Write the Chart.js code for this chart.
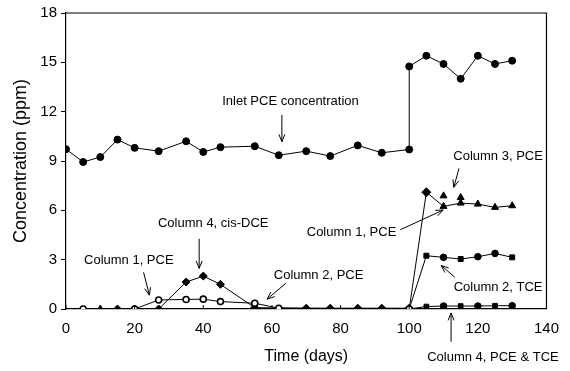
<!DOCTYPE html>
<html><head><meta charset="utf-8">
<script src="https://cdn.jsdelivr.net/npm/chart.js@4"></script>
<style>html,body{margin:0;padding:0;background:#fff}</style>
</head><body>
<canvas id="c" width="570" height="371"></canvas>
<script>
// ---- data ----
const xTicks = [0, 20, 40, 60, 80, 100, 120, 140];
const yTicks = [0, 3, 6, 9, 12, 15, 18];

const inletDays = [0, 5, 10, 15, 20, 27, 35, 40, 45, 55, 62, 70, 77, 85, 92, 100, 100, 105, 110, 115, 120, 125, 130];
const inletPCE  = [9.72, 8.94, 9.24, 10.3, 9.8, 9.6, 10.2, 9.55, 9.84, 9.9, 9.35, 9.6, 9.3, 9.95, 9.5, 9.7, 14.75, 15.4, 14.9, 14.0, 15.4, 14.9, 15.1];

const col1Days = [5, 20, 27, 35, 40, 45, 55, 62, 100, 105, 110, 115, 120, 125, 130];
const col1PCE  = [0, 0, 0.55, 0.58, 0.6, 0.45, 0.35, 0.05, 0, 7.1, 6.24, 6.44, 6.38, 6.18, 6.28];

const col2Days = [100, 105, 110, 115, 120, 125, 130];
const col2TCE  = [0, 3.24, 3.14, 3.04, 3.18, 3.38, 3.14];

const col3Days = [10, 110, 115];
const col3PCE  = [0, 6.88, 6.78];

const col4DceDays = [15, 20, 27, 35, 40, 45, 55, 70, 77, 85, 92, 100];
const col4DCE     = [0, 0, 0, 1.64, 2.0, 1.5, 0.08, 0.05, 0.05, 0.05, 0.05, 0.05];

const col4Days   = [100, 105, 110, 115, 120, 125, 130];
const col4PceTce = [0, 0.15, 0.18, 0.18, 0.18, 0.2, 0.2];

// ---- helpers ----
const pts = (xs, ys) => xs.map((x, i) => ({x: x, y: ys[i]}));
const FONT = '"Liberation Sans", Arial, Helvetica, sans-serif';

const annotations = [
  {text: 'Inlet PCE concentration', tx: 65.4, ty: 12.64, a: [62.9, 11.8, 62.9, 10.17]},
  {text: 'Column 3, PCE', tx: 125.9, ty: 9.27, a: [114.5, 8.55, 113.0, 7.40]},
  {text: 'Column 4, cis-DCE', tx: 42.9, ty: 5.18, a: [38.8, 4.27, 38.8, 2.47]},
  {text: 'Column 1, PCE', tx: 18.3, ty: 2.95, a: [22.6, 2.23, 24.3, 0.84]},
  {text: 'Column 2, PCE', tx: 73.6, ty: 2.05, a: [64.1, 1.57, 58.6, 0.6]},
  {text: 'Column 1, PCE', tx: 83.2, ty: 4.64, a: [97.4, 4.82, 109.9, 6.02]},
  {text: 'Column 2, TCE', tx: 125.9, ty: 1.32, a: [113.3, 1.93, 109.3, 2.65]},
  {text: 'Column 4, PCE & TCE', tx: 124.4, ty: -2.95, a: [112.2, -1.99, 112.2, -0.24]}
];

const decor = {
  id: 'decor',
  afterDraw(chart) {
    const {ctx, chartArea: ca, scales: {x, y}} = chart;
    ctx.save();
    ctx.strokeStyle = '#000';
    ctx.lineWidth = 1.2;
    // frame top/right
    ctx.beginPath();
    ctx.moveTo(ca.left, ca.top); ctx.lineTo(ca.right, ca.top); ctx.lineTo(ca.right, ca.bottom);
    ctx.stroke();
    // inward x ticks
    ctx.lineWidth = 1;
    x.ticks.forEach(t => {
      const px = x.getPixelForValue(t.value);
      ctx.beginPath(); ctx.moveTo(px, ca.bottom); ctx.lineTo(px, ca.bottom - 4); ctx.stroke();
    });
    // annotations
    ctx.fillStyle = '#000';
    ctx.font = '13px ' + FONT;
    ctx.textAlign = 'center';
    ctx.textBaseline = 'middle';
    annotations.forEach(an => {
      ctx.fillText(an.text, x.getPixelForValue(an.tx), y.getPixelForValue(an.ty));
      const x1 = x.getPixelForValue(an.a[0]), y1 = y.getPixelForValue(an.a[1]);
      const x2 = x.getPixelForValue(an.a[2]), y2 = y.getPixelForValue(an.a[3]);
      ctx.beginPath(); ctx.moveTo(x1, y1); ctx.lineTo(x2, y2); ctx.stroke();
      const ang = Math.atan2(y2 - y1, x2 - x1), L = 8, w = 0.38;
      ctx.beginPath();
      ctx.moveTo(x2 - L * Math.cos(ang - w), y2 - L * Math.sin(ang - w));
      ctx.lineTo(x2, y2);
      ctx.lineTo(x2 - L * Math.cos(ang + w), y2 - L * Math.sin(ang + w));
      ctx.stroke();
    });
    ctx.restore();
  }
};

const base = {showLine: true, borderColor: '#000', borderWidth: 1, pointBorderColor: '#000', pointBorderWidth: 1, tension: 0};

new Chart(document.getElementById('c'), {
  type: 'scatter',
  data: {
    datasets: [
      Object.assign({}, base, {label: 'Inlet PCE', data: pts(inletDays, inletPCE),
        pointStyle: 'circle', pointRadius: 3.5, pointBackgroundColor: '#000'}),
      Object.assign({}, base, {label: 'Column 1, PCE', data: pts(col1Days, col1PCE),
        pointStyle: c => c.raw.x > 100 ? (c.raw.x === 105 ? 'rectRot' : 'triangle') : 'circle',
        pointRadius: c => c.raw.x > 100 ? (c.raw.x === 105 ? 4.5 : 4) : 3,
        pointBorderWidth: c => c.raw.x > 100 ? 1 : 1.6,
        pointBackgroundColor: c => c.raw.x > 100 ? '#000' : '#fff'}),
      Object.assign({}, base, {label: 'Column 2, TCE', data: pts(col2Days, col2TCE),
        pointStyle: ['circle', 'rect', 'circle', 'rect', 'circle', 'circle', 'rect'],
        pointRadius: [0, 3.5, 3.3, 3.5, 3.3, 3.3, 3.5], pointBackgroundColor: '#000'}),
      Object.assign({}, base, {label: 'Column 3, PCE', data: pts(col3Days, col3PCE), showLine: false,
        pointStyle: 'triangle', pointRadius: 4, pointBackgroundColor: '#000'}),
      Object.assign({}, base, {label: 'Column 4, cis-DCE', data: pts(col4DceDays, col4DCE),
        pointStyle: 'rectRot', pointRadius: 4, pointBackgroundColor: '#000'}),
      Object.assign({}, base, {label: 'Column 4, PCE & TCE', data: pts(col4Days, col4PceTce),
        pointStyle: ['circle', 'rect', 'circle', 'rect', 'circle', 'rect', 'circle'],
        pointRadius: [0, 3.3, 3.3, 3.3, 3.3, 3.3, 3.3], pointBackgroundColor: '#000'})
    ]
  },
  options: {
    responsive: false,
    animation: false,
    layout: {padding: {left: 0, right: 21, top: 10, bottom: 0}},
    plugins: {legend: {display: false}, tooltip: {enabled: false}},
    scales: {
      x: {
        type: 'linear', min: 0, max: 140,
        afterFit: s => { s.height = 62; },
        afterBuildTicks: s => { s.ticks = xTicks.map(v => ({value: v})); },
        grid: {display: false, drawTicks: false},
        border: {display: true, color: '#000', width: 1.2},
        ticks: {padding: 11, color: '#000', font: {family: FONT, size: 15}, maxRotation: 0},
        title: {display: true, text: 'Time (days)', color: '#000', font: {family: FONT, size: 16}, padding: {top: 0, bottom: 5}}
      },
      y: {
        type: 'linear', min: 0, max: 18,
        afterFit: s => { s.width = 66; },
        afterBuildTicks: s => { s.ticks = yTicks.map(v => ({value: v})); },
        grid: {display: true, drawOnChartArea: false, drawTicks: true, tickLength: 5, color: '#000'},
        border: {display: true, color: '#000', width: 1.2},
        ticks: {padding: 4, color: '#000', font: {family: FONT, size: 15}},
        title: {display: true, text: 'Concentration (ppm)', color: '#000', font: {family: FONT, size: 18}, padding: {top: 10, bottom: 0}}
      }
    }
  },
  plugins: [decor]
});
</script>
</body></html>
